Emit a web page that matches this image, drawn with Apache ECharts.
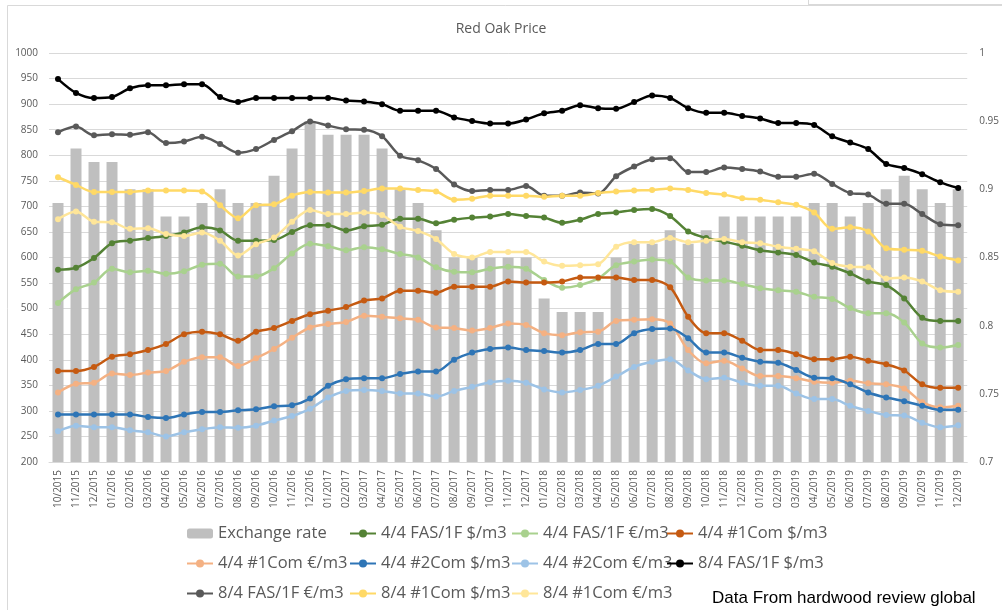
<!DOCTYPE html>
<html>
<head>
<meta charset="utf-8">
<title>Red Oak Price</title>
<script src="https://cdn.jsdelivr.net/npm/echarts@6.0.0/dist/echarts.min.js"></script>
<style>
    html, body { margin: 0; padding: 0; background: #fff; }
    #main { width: 1002px; height: 610px; }
</style>
</head>
<body>
<div id="main"></div>
<script>
// months 10/2015 .. 12/2019
const months = [
    '10/2015', '11/2015', '12/2015',
    '01/2016', '02/2016', '03/2016', '04/2016', '05/2016', '06/2016', '07/2016', '08/2016', '09/2016', '10/2016', '11/2016', '12/2016',
    '01/2017', '02/2017', '03/2017', '04/2017', '05/2017', '06/2017', '07/2017', '08/2017', '09/2017', '10/2017', '11/2017', '12/2017',
    '01/2018', '02/2018', '03/2018', '04/2018', '05/2018', '06/2018', '07/2018', '08/2018', '09/2018', '10/2018', '11/2018', '12/2018',
    '01/2019', '02/2019', '03/2019', '04/2019', '05/2019', '06/2019', '07/2019', '08/2019', '09/2019', '10/2019', '11/2019', '12/2019'
]

// EUR per USD (right axis)
const exchangeRate = [
    0.89, 0.93, 0.92, 0.92, 0.90, 0.90, 0.88, 0.88, 0.89, 0.90,
    0.89, 0.89, 0.91, 0.93, 0.95, 0.94, 0.94, 0.94, 0.93, 0.90,
    0.89, 0.87, 0.85, 0.85, 0.85, 0.85, 0.85, 0.82, 0.81, 0.81,
    0.81, 0.85, 0.86, 0.86, 0.87, 0.86, 0.87, 0.88, 0.88, 0.88,
    0.88, 0.88, 0.89, 0.89, 0.88, 0.89, 0.90, 0.91, 0.90, 0.89,
    0.90
]

const fas44Usd = [
    576, 580, 599, 628, 633, 638, 642, 649, 659, 653,
    633, 633, 634, 650, 663, 663, 653, 661, 664, 676,
    676, 667, 674, 678, 680, 685, 681, 678, 668, 674,
    685, 688, 693, 695, 681, 651, 638, 631, 623, 614,
    610, 605, 590, 582, 569, 553, 546, 520, 482, 476,
    476
]
const fas44Eur = [
    511, 538, 551, 578, 571, 574, 568, 573, 586, 588,
    563, 563, 579, 608, 627, 622, 614, 620, 616, 607,
    600, 581, 572, 571, 578, 582, 578, 556, 541, 546,
    559, 585, 592, 596, 592, 561, 555, 555, 548, 540,
    536, 533, 523, 519, 501, 491, 491, 473, 432, 424,
    429
]
const com44Usd = [
    378, 378, 386, 406, 411, 419, 431, 450, 455, 450,
    437, 455, 462, 476, 489, 496, 503, 516, 520, 535,
    535, 531, 543, 543, 543, 553, 551, 551, 553, 561,
    561, 561, 556, 556, 542, 484, 452, 452, 437, 419,
    419, 411, 401, 401, 406, 398, 391, 379, 352, 345,
    345
]
const com44Eur = [
    336, 353, 355, 373, 370, 375, 378, 396, 405, 405,
    388, 403, 421, 443, 463, 470, 474, 486, 484, 481,
    478, 463, 462, 457, 462, 471, 468, 452, 448, 454,
    455, 476, 478, 479, 471, 419, 393, 398, 383, 368,
    368, 364, 357, 355, 359, 354, 352, 344, 317, 307,
    310
]
const com244Usd = [
    293, 293, 293, 293, 293, 288, 286, 293, 298, 298,
    301, 303, 309, 311, 324, 349, 362, 364, 364, 372,
    377, 377, 400, 414, 421, 424, 419, 417, 414, 419,
    431, 431, 452, 460, 461, 442, 414, 414, 404, 396,
    394, 380, 365, 364, 352, 336, 326, 319, 310, 302,
    302
]
const com244Eur = [
    260, 271, 268, 268, 262, 258, 250, 258, 264, 268,
    267, 271, 281, 290, 304, 326, 339, 341, 339, 334,
    334, 328, 339, 347, 356, 359, 355, 342, 336, 341,
    349, 367, 386, 396, 401, 379, 362, 365, 355, 349,
    349, 334, 323, 323, 310, 300, 292, 291, 277, 268,
    272
]
const fas84Usd = [
    949, 922, 912, 914, 931, 937, 937, 939, 939, 914,
    904, 912, 912, 912, 912, 912, 907, 905, 900, 887,
    887, 887, 874, 867, 862, 862, 870, 882, 887, 898,
    892, 891, 904, 917, 912, 892, 883, 883, 877, 872,
    863, 863, 859, 837, 825, 812, 783, 775, 763, 747,
    736
]
const fas84Eur = [
    845, 856, 839, 841, 840, 845, 824, 827, 836, 822,
    805, 812, 830, 847, 866, 858, 851, 850, 837, 799,
    790, 773, 743, 730, 732, 732, 740, 721, 721, 727,
    725, 759, 778, 792, 794, 767, 767, 776, 773, 768,
    758, 758, 764, 744, 726, 723, 705, 705, 685, 665,
    663
]
const com84Usd = [
    757, 742, 728, 728, 728, 731, 731, 731, 729, 702,
    677, 702, 704, 721, 728, 727, 727, 730, 735, 735,
    732, 729, 713, 715, 721, 721, 721, 719, 721, 721,
    726, 729, 731, 732, 735, 732, 726, 723, 716, 713,
    708, 703, 688, 656, 659, 651, 618, 615, 613, 602,
    594
]
const com84Eur = [
    675, 690, 670, 669, 656, 657, 646, 642, 649, 633,
    604, 626, 639, 670, 693, 685, 685, 688, 683, 660,
    652, 636, 607, 600, 611, 611, 611, 592, 584, 585,
    587, 621, 630, 630, 638, 630, 633, 636, 630, 628,
    621, 617, 612, 589, 582, 581, 559, 561, 553, 536,
    533
]

const textColor = '#595959'
const gridColor = '#D9D9D9'
const font = '"Open Sans", sans-serif'

function lineSeries(name, data, color) {
    return {
        name,
        type: 'line',
        data,
        smooth: 0.3,
        symbol: 'circle',
        symbolSize: 6,
        lineStyle: { color, width: 2.5 },
        itemStyle: { color },
        z: 3
    }
}

// excel puts the legend on a grid, so one vertical legend per column
function legendColumn(left, names) {
    return {
        orient: 'vertical',
        left,
        top: 519,
        itemWidth: 26,
        itemHeight: 10,
        itemGap: 11,
        selectedMode: false,
        textStyle: { color: textColor, fontSize: 16.5, fontFamily: font, lineHeight: 19 },
        data: names
    }
}

const chart = echarts.init(document.getElementById('main'))
chart.setOption({
    animation: false,
    backgroundColor: '#fff',
    title: {
        text: 'Red Oak Price',
        left: 'center',
        top: 17,
        textStyle: { color: textColor, fontSize: 14, fontWeight: 'normal', fontFamily: font }
    },
    graphic: [
        { type: 'rect', shape: { x: 7.5, y: 5.5, width: 1100, height: 700 }, style: { fill: null, stroke: gridColor, lineWidth: 1 } },
        { type: 'line', shape: { x1: 808.5, y1: 0, x2: 808.5, y2: 5 }, style: { stroke: gridColor, lineWidth: 1 } },
        { type: 'line', shape: { x1: 808, y1: 4.5, x2: 1002, y2: 4.5 }, style: { stroke: gridColor, lineWidth: 1 } },
        {
            type: 'text',
            left: 712,
            top: 590,
            style: { text: 'Data From hardwood review global', fill: '#000', fontSize: 17, fontFamily: '"Liberation Sans", Arial, sans-serif' }
        }
    ],
    legend: [
        legendColumn(181, ['Exchange rate', '4/4 #1Com €/m3', '8/4 FAS/1F €/m3']),
        legendColumn(344, ['4/4 FAS/1F $/m3', '4/4 #2Com $/m3', '8/4 #1Com $/m3']),
        legendColumn(506, ['4/4 FAS/1F €/m3', '4/4 #2Com €/m3', '8/4 #1Com €/m3']),
        legendColumn(661, ['4/4 #1Com $/m3', '8/4 FAS/1F $/m3'])
    ],
    grid: { left: 49, right: 31, top: 53, bottom: 148 },
    xAxis: {
        type: 'category',
        data: months,
        axisTick: { show: false },
        axisLine: { lineStyle: { color: gridColor } },
        axisLabel: { rotate: 90, interval: 0, color: textColor, fontSize: 10, fontFamily: font, margin: 8 }
    },
    yAxis: [{
        type: 'value',
        min: 200,
        max: 1000,
        interval: 50,
        axisLine: { show: false },
        axisTick: { show: false },
        splitLine: { lineStyle: { color: gridColor } },
        axisLabel: { color: textColor, fontSize: 10, fontFamily: font, margin: 11, formatter: v => String(v) }
    }, {
        type: 'value',
        min: 0.7,
        max: 1,
        interval: 0.05,
        axisLine: { show: false },
        axisTick: { show: false },
        splitLine: { show: false },
        axisLabel: { color: textColor, fontSize: 10, fontFamily: font, margin: 12 }
    }],
    series: [
        {
            name: 'Exchange rate',
            type: 'bar',
            yAxisIndex: 1,
            data: exchangeRate,
            barWidth: '61%',
            itemStyle: { color: '#BFBFBF' },
            z: 1
        },
        lineSeries('4/4 FAS/1F $/m3', fas44Usd, '#548235'),
        lineSeries('4/4 FAS/1F €/m3', fas44Eur, '#A9D18E'),
        lineSeries('4/4 #1Com $/m3', com44Usd, '#C55A11'),
        lineSeries('4/4 #1Com €/m3', com44Eur, '#F4B183'),
        lineSeries('4/4 #2Com $/m3', com244Usd, '#2E75B6'),
        lineSeries('4/4 #2Com €/m3', com244Eur, '#9DC3E6'),
        lineSeries('8/4 FAS/1F $/m3', fas84Usd, '#000000'),
        lineSeries('8/4 FAS/1F €/m3', fas84Eur, '#595959'),
        lineSeries('8/4 #1Com $/m3', com84Usd, '#FFD966'),
        lineSeries('8/4 #1Com €/m3', com84Eur, '#FFE699')
    ]
})
</script>
</body>
</html>
